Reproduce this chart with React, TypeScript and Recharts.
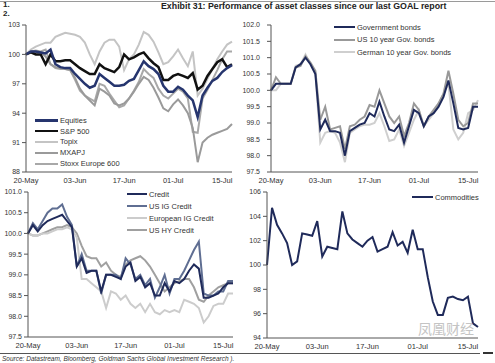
import React from "react";
import { LineChart, Line, XAxis, YAxis } from "recharts";

const FONT = '"Liberation Sans", Arial, sans-serif';

// business days, 20-May .. 17-Jul
const dates = [
  "20-May", "21-May", "22-May", "25-May", "26-May", "27-May", "28-May", "29-May", "01-Jun", "02-Jun",
  "03-Jun", "04-Jun", "05-Jun", "08-Jun", "09-Jun", "10-Jun", "11-Jun", "12-Jun", "15-Jun", "16-Jun",
  "17-Jun", "18-Jun", "19-Jun", "22-Jun", "23-Jun", "24-Jun", "25-Jun", "26-Jun", "29-Jun", "30-Jun",
  "01-Jul", "02-Jul", "03-Jul", "06-Jul", "07-Jul", "08-Jul", "09-Jul", "10-Jul", "13-Jul", "14-Jul",
  "15-Jul", "16-Jul", "17-Jul",
];

// panel 1: equities
const equities = [100.0, 100.3, 100.3, 100.2, 100.1, 100.5, 99.0, 98.7, 98.6, 98.6, 98.0, 97.5, 97.0, 96.6, 96.8, 98.0, 97.6, 97.2, 96.8, 96.8, 96.9, 97.3, 97.5, 98.4, 99.3, 98.8, 98.5, 98.0, 96.8, 96.2, 96.2, 96.7, 96.4, 95.8, 95.3, 93.6, 95.8, 96.6, 97.3, 97.6, 98.2, 98.6, 98.9];
const sp500 = [100.0, 100.2, 100.0, 100.0, 99.0, 100.0, 99.3, 99.3, 99.4, 99.4, 99.0, 98.6, 98.3, 98.0, 98.0, 99.0, 98.6, 98.4, 98.2, 98.7, 100.0, 99.5, 99.7, 100.0, 100.2, 99.6, 99.1, 98.7, 97.4, 97.4, 97.8, 98.0, 97.8, 97.6, 98.1, 96.4, 96.8, 97.8, 98.5, 99.2, 99.5, 98.7, 99.0];
const topix = [100.0, 100.5, 100.8, 101.0, 101.2, 101.2, 101.8, 102.0, 102.2, 102.1, 102.0, 101.8, 101.2, 100.0, 99.0, 100.3, 101.2, 101.5, 101.5, 100.8, 98.4, 99.5, 100.0, 101.0, 102.3, 102.0, 101.3, 100.2, 99.0, 99.2, 99.8, 100.5, 99.6, 98.8, 100.3, 95.8, 96.5, 97.5, 98.5, 99.5, 100.3, 101.0, 101.3];
const mxapj = [100.0, 100.3, 100.2, 100.2, 99.8, 99.0, 98.7, 98.6, 98.5, 98.4, 97.6, 96.5, 95.8, 95.3, 94.8, 96.5, 96.2, 95.8, 95.0, 94.8, 95.0, 95.5, 96.2, 97.0, 97.7, 97.4, 96.6, 95.6, 94.5, 94.2, 94.9, 95.4, 94.8, 94.0, 92.5, 89.0, 91.0, 91.5, 91.8, 92.0, 92.2, 92.4, 92.9];
const stoxx = [100.0, 100.3, 100.4, 100.3, 100.5, 99.0, 98.6, 98.5, 98.5, 98.4, 97.4, 96.3, 95.8, 95.5, 95.2, 97.0, 96.8, 96.0, 95.3, 94.6, 94.8, 95.5, 96.3, 97.2, 98.5, 98.0, 97.6, 96.5, 95.8, 95.5, 96.0, 96.5, 96.2, 95.5, 92.1, 92.0, 95.5, 96.4, 97.4, 98.4, 99.5, 100.3, 100.3];

// panel 2: government bonds
const govBonds = [100.0, 100.2, 100.2, 100.2, 100.2, 100.7, 100.8, 101.0, 100.8, 100.5, 98.8, 99.1, 98.75, 98.75, 98.7, 98.0, 98.75, 98.85, 98.95, 99.0, 99.3, 99.2, 99.65, 99.2, 98.8, 98.75, 98.95, 98.4, 98.9, 99.4, 99.3, 98.9, 99.2, 99.3, 99.5, 99.8, 100.3, 99.6, 98.85, 98.8, 98.85, 99.5, 99.5];
const us10y = [100.0, 100.4, 100.2, 100.2, 100.2, 100.7, 100.75, 101.05, 100.85, 100.6, 99.1, 99.5, 98.8, 98.85, 98.9, 98.2, 98.9, 98.95, 99.1, 99.2, 99.55, 99.5, 100.0, 99.6, 99.2, 99.0, 99.2, 98.6, 99.0, 99.6, 99.4, 98.9, 99.2, 99.4, 99.6, 99.9, 100.6, 99.9, 99.1, 98.9, 99.0, 99.6, 99.6];
const de10y = [100.0, 100.0, 100.2, 100.2, 100.2, 100.75, 100.8, 101.1, 100.8, 100.55, 98.4, 98.7, 98.75, 98.7, 98.4, 97.8, 98.7, 98.8, 98.9, 98.95, 98.95, 99.0, 99.3, 98.9, 98.45, 98.5, 98.8, 98.3, 98.7, 99.1, 99.4, 98.9, 99.1, 99.3, 99.6, 99.9, 100.2, 98.8, 98.5, 98.7, 99.3, 99.4, 99.7];

// panel 3: credit
const credit = [100.0, 100.2, 100.05, 100.2, 100.3, 100.35, 100.4, 100.45, 100.3, 100.15, 99.2, 99.4, 99.05, 99.1, 99.1, 98.6, 99.0, 99.0, 98.95, 98.9, 99.2, 99.3, 98.85, 98.95, 98.7, 98.8, 98.5, 98.5, 98.8, 98.6, 98.85, 98.8, 98.9, 99.1, 99.25, 99.15, 98.45, 98.45, 98.5, 98.55, 98.7, 98.8, 98.8];
const usIG = [100.0, 100.25, 100.1, 100.3, 100.5, 100.6, 100.6, 100.7, 100.4, 100.2, 99.2, 99.5, 99.1, 99.1, 99.1, 98.55, 99.0, 99.0, 99.0, 98.9, 99.4, 99.25, 98.9, 99.0, 98.75, 98.9, 98.45, 98.7, 99.0, 98.55, 98.9, 98.9, 99.1, 99.35, 99.6, 99.8, 98.55, 98.5, 98.5, 98.6, 98.6, 98.85, 98.85];
const euIG = [100.0, 99.95, 99.95, 100.0, 100.0, 100.05, 100.1, 100.1, 100.15, 100.1, 99.9, 98.9, 98.9, 98.8, 98.7, 98.6, 98.2, 98.6, 98.55, 98.4, 98.5, 98.3, 98.2, 98.3, 98.1, 98.3, 98.1, 98.05, 98.15, 98.1, 98.15, 98.1, 98.4, 98.35, 98.3, 98.2, 97.85, 98.0, 98.25, 98.3, 98.3, 98.55, 98.55];
const usHY = [100.0, 99.95, 99.95, 100.0, 100.05, 100.1, 100.15, 100.15, 100.2, 100.15, 100.0, 99.7, 99.45, 99.4, 99.4, 99.2, 99.3, 99.1, 99.0, 98.95, 99.25, 99.35, 99.4, 99.45, 99.35, 99.2, 99.0, 98.8, 98.6, 98.7, 98.8, 98.85, 98.9, 98.9, 98.7, 98.4, 98.35, 98.5, 98.6, 98.7, 98.75, 98.8, 98.8];

// panel 4: commodities
const commodities = [100.0, 104.7, 103.3, 102.6, 101.8, 100.0, 100.3, 102.6, 102.5, 102.4, 103.6, 100.7, 101.5, 101.4, 101.3, 104.4, 102.6, 102.1, 101.8, 101.5, 102.0, 102.3, 101.1, 101.3, 101.5, 102.7, 101.6, 101.9, 101.0, 102.9, 101.3, 101.3, 99.0, 97.0, 95.9, 95.9, 97.3, 97.4, 97.2, 97.1, 97.4, 95.2, 94.9];

const ticks1 = [88, 91, 94, 97, 100, 103];
const ticks2 = [97.5, 98.0, 98.5, 99.0, 99.5, 100.0, 100.5, 101.0, 101.5, 102.0];
const ticks3 = [97.5, 98.0, 98.5, 99.0, 99.5, 100.0, 100.5, 101.0];
const ticks4 = [94, 96, 98, 100, 102, 104, 106];

type Series = { key: string; name: string; color: string; w: number; data: number[] };

const NAVY = "#1f2a5a";

const s1: Series[] = [
  { key: "eq", name: "Equities", color: "#26356e", w: 2.5, data: equities },
  { key: "sp", name: "S&P 500", color: "#111111", w: 2.5, data: sp500 },
  { key: "tp", name: "Topix", color: "#c4c4c4", w: 2, data: topix },
  { key: "mx", name: "MXAPJ", color: "#9a9a9a", w: 2, data: mxapj },
  { key: "sx", name: "Stoxx Europe 600", color: "#a8a8a8", w: 2, data: stoxx },
];
const s2: Series[] = [
  { key: "gb", name: "Government bonds", color: NAVY, w: 2, data: govBonds },
  { key: "us", name: "US 10 year Gov. bonds", color: "#999999", w: 2, data: us10y },
  { key: "de", name: "German 10 year Gov. bonds", color: "#cfcfcf", w: 2, data: de10y },
];
const s3: Series[] = [
  { key: "cr", name: "Credit", color: NAVY, w: 2, data: credit },
  { key: "ig", name: "US IG Credit", color: "#5f6e92", w: 2, data: usIG },
  { key: "eu", name: "European IG Credit", color: "#cccccc", w: 2, data: euIG },
  { key: "hy", name: "US HY Credit", color: "#a0a0a0", w: 2, data: usHY },
];
const s4: Series[] = [{ key: "co", name: "Commodities", color: NAVY, w: 2, data: commodities }];

type PanelProps = {
  x: number; y: number; w: number; h: number;
  yw: number; top: number; right: number; xh: number; tm: number;
  domain: [number, number]; ticks: number[]; digits: number;
  series: Series[];
  lg: { x: number; y: number; gap: number; sw: number };
};

function Panel(p: PanelProps) {
  const rows = dates.map((d, i) => {
    const r: Record<string, string | number> = { date: d };
    p.series.forEach((s) => (r[s.key] = s.data[i]));
    return r;
  });
  const tickStyle = { fontSize: 7, fill: "#333", fontFamily: FONT };
  return (
    <div style={{ position: "absolute", left: p.x, top: p.y }}>
      <LineChart width={p.w} height={p.h} data={rows} margin={{ top: p.top, right: p.right, bottom: 0, left: 0 }}>
        <XAxis
          dataKey="date"
          interval={9}
          tickLine={false}
          tickSize={4}
          tickMargin={2}
          height={p.xh}
          axisLine={{ stroke: "#555" }}
          tick={{ fontSize: 7.5, fill: "#333", fontFamily: FONT }}
        />
        <YAxis
          type="number"
          width={p.yw}
          domain={p.domain}
          ticks={p.ticks}
          allowDataOverflow
          tickFormatter={(v: number) => v.toFixed(p.digits)}
          tickSize={4}
          tickMargin={p.tm}
          axisLine={{ stroke: "#555" }}
          tickLine={{ stroke: "#555" }}
          tick={tickStyle}
        />
        {p.series
          .slice()
          .reverse()
          .map((s) => (
            <Line
              key={s.key}
              type="linear"
              dataKey={s.key}
              stroke={s.color}
              strokeWidth={s.w}
              dot={false}
              isAnimationActive={false}
            />
          ))}
      </LineChart>
      <div style={{ position: "absolute", left: p.lg.x, top: p.lg.y, fontFamily: FONT, fontSize: 7.5, color: "#333" }}>
        {p.series.map((s) => (
          <div key={s.key} style={{ display: "flex", alignItems: "center", height: p.lg.gap }}>
            <div style={{ width: p.lg.sw, height: s.w, background: s.color, marginRight: 2 }} />
            <span style={{ whiteSpace: "nowrap" }}>{s.name}</span>
          </div>
        ))}
      </div>
    </div>
  );
}

export default function App() {
  return (
    <div style={{ position: "absolute", left: 0, top: 0, width: 495, height: 363, background: "#fff", overflow: "hidden", fontFamily: FONT }}>
      <div style={{ position: "absolute", left: 0, top: 1, width: 495, height: 1, background: "#9a9a9a" }} />
      <div style={{ position: "absolute", left: 3, top: 0, fontSize: 8, fontWeight: "bold", lineHeight: "9px", color: "#222" }}>1.<br />2.</div>
      <div style={{ position: "absolute", left: 161, top: 0, fontSize: 8.8, fontWeight: "bold", color: "#222", whiteSpace: "nowrap", lineHeight: "12px" }}>
        Exhibit 31: Performance of asset classes since our last GOAL report
      </div>

      <Panel x={0} y={15} w={245} h={180} yw={26} top={10} right={13} xh={23} tm={2}
        domain={[88, 103]} ticks={ticks1} digits={0} series={s1}
        lg={{ x: 35, y: 115 - 15, gap: 10.8, sw: 23 }} />
      <Panel x={238} y={15} w={252} h={180} yw={33} top={10} right={12} xh={23} tm={7}
        domain={[97.5, 102]} ticks={ticks2} digits={1} series={s2}
        lg={{ x: 96, y: 21 - 15, gap: 12.5, sw: 21 }} />
      <Panel x={0} y={185} w={245} h={168} yw={28} top={7} right={12} xh={16} tm={2}
        domain={[97.5, 101]} ticks={ticks3} digits={1} series={s3}
        lg={{ x: 127, y: 188 - 185, gap: 12, sw: 20 }} />
      <Panel x={245} y={185} w={245} h={168} yw={22} top={7} right={12} xh={15} tm={2}
        domain={[94, 106]} ticks={ticks4} digits={0} series={s4}
        lg={{ x: 167, y: 191 - 185, gap: 12, sw: 21 }} />

      <div style={{ position: "absolute", left: 418, top: 320, fontSize: 14, color: "#c4c4c4", fontFamily: '"Noto Sans CJK SC", sans-serif', lineHeight: "16px" }}>凤凰财经</div>
      <div style={{ position: "absolute", left: 0, top: 353, width: 480, height: 1, background: "#555" }} />
      <div style={{ position: "absolute", left: 483, top: 352, width: 10, height: 2, background: "#333" }} />
      <div style={{ position: "absolute", left: 2, top: 355, fontSize: 6.5, fontStyle: "italic", color: "#333", whiteSpace: "nowrap", lineHeight: "8px" }}>
        Source: Datastream, Bloomberg, Goldman Sachs Global Investment Research ).
      </div>
    </div>
  );
}
